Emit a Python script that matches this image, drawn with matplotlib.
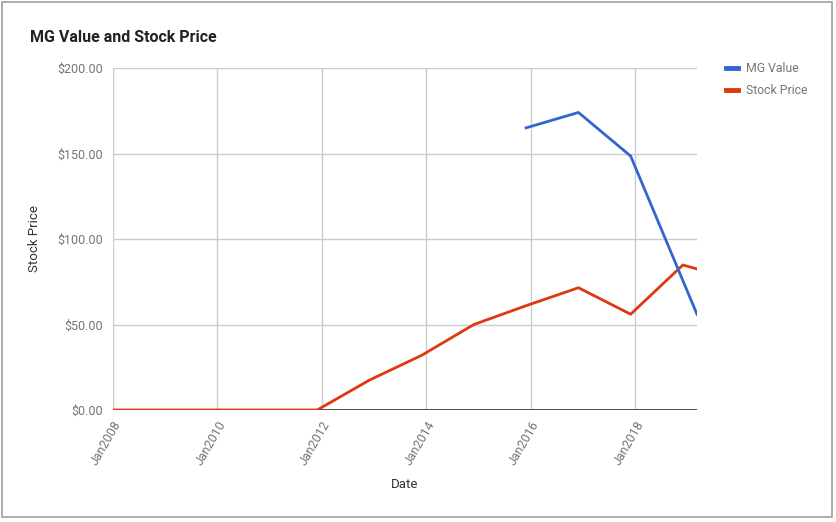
import matplotlib
matplotlib.use("Agg")
import matplotlib.pyplot as plt
from matplotlib.patches import Rectangle
from datetime import datetime

plt.rcParams['font.family'] = ['Roboto', 'DejaVu Sans']

# --------------------- DATA ---------------------

price_dates = ["2008-01-01", "2008-12-31", "2009-12-31", "2010-12-31", "2011-12-01",
               "2012-12-01", "2013-12-01", "2014-12-01", "2015-12-01", "2016-12-01",
               "2017-12-01", "2018-12-01", "2019-03-10"]
price_values = [0, 0, 0, 0, 0, 17.5, 32.0, 50.0, 61.0, 71.5, 56.0, 84.8, 82.5]

mg_dates = ["2015-12-01", "2016-12-01", "2017-12-01", "2019-03-10"]
mg_values = [165.0, 174.0, 148.5, 56.0]

tick_years = [2008, 2010, 2012, 2014, 2016, 2018]
y_ticks = [0, 50, 100, 150, 200]

blue = "#3366cc"
red = "#dc3912"
grey_text = "#757575"


def toDates(lst):
    return [datetime.strptime(s, "%Y-%m-%d") for s in lst]


# --------------------- PLOT ---------------------

fig = plt.figure(figsize=(8.36, 5.22), dpi=100)
ax = fig.add_axes([112.7 / 836, 112 / 522, (697 - 112.7) / 836, (410 - 68) / 522])

ax.plot(toDates(price_dates), price_values, color=red, lw=2, zorder=4)
ax.plot(toDates(mg_dates), mg_values, color=blue, lw=2, zorder=4)

ax.set_xlim(datetime(2008, 1, 1), datetime(2019, 3, 10))
ax.set_ylim(0, 200)

ax.set_xticks([datetime(y, 1, 1) for y in tick_years])
ax.set_xticklabels(["Jan%d" % y for y in tick_years], rotation=60, ha="right",
                   rotation_mode="anchor", color=grey_text, fontsize=9)
ax.set_yticks(y_ticks)
ax.set_yticklabels(["$%.2f" % v for v in y_ticks], color=grey_text, fontsize=9)

ax.grid(True, color="#cccccc", lw=1)
ax.axhline(0, color="#333333", lw=1.2, zorder=3)
ax.tick_params(axis="y", length=0, pad=7)
ax.tick_params(axis="x", length=0, pad=6)
for s in ax.spines.values():
    s.set_visible(False)

ax.set_xlabel("Date", color="#333333", fontsize=9.5)
ax.set_ylabel("Stock Price", color="#333333", fontsize=9.5)
ax.xaxis.set_label_coords(0.499, -0.2)
ax.yaxis.set_label_coords(-0.123, 0.5)

fig.text(30 / 836, 1 - 37 / 522, "MG Value and Stock Price", fontsize=11.5, fontweight="bold",
         color="#222222", va="center")

# legend
for i, (lab, col) in enumerate([("MG Value", blue), ("Stock Price", red)]):
    yy = 1 - (67.5 + 22 * i) / 522
    fig.add_artist(plt.Line2D([726 / 836, 738 / 836], [yy, yy], color=col, lw=3.5))
    fig.text(746 / 836, yy - 1 / 522, lab, fontsize=8.8, color=grey_text, va="center")

# outer frame
fig.add_artist(Rectangle((2 / 836, 5 / 522), 830 / 836, 515 / 522, transform=fig.transFigure,
                         fill=False, edgecolor="#9e9e9e", lw=1.2))

fig.savefig("out.png", dpi=100)
